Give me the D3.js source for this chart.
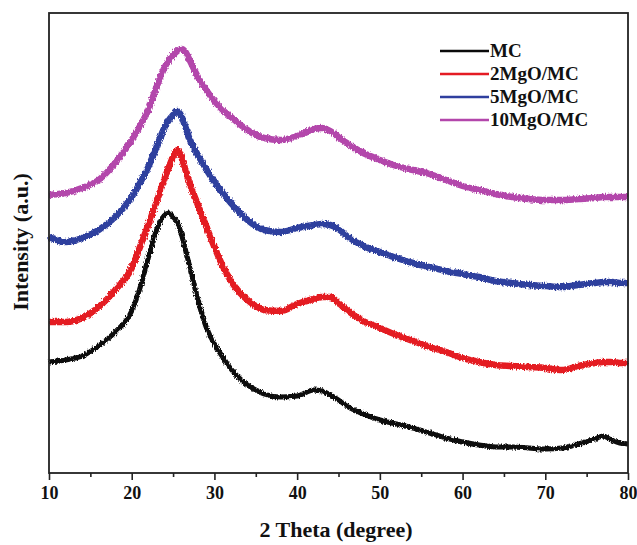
<!DOCTYPE html>
<html>
<head>
<meta charset="utf-8">
<script src="https://cdn.jsdelivr.net/npm/d3@7"></script>
<style>
  html, body { margin: 0; padding: 0; background: #fff; }
  svg { display: block; }
  text { font-family: "Liberation Serif", "Times New Roman", serif; font-weight: bold; fill: #111; }
</style>
</head>
<body>
<svg id="chart" width="637" height="545"></svg>
<script>
// Diffraction angle grid (2θ, degrees)
const theta = [10,12,14,16,18,20,21,22,23,24,24.5,25,25.5,26,26.5,27,28,29,30,31,32,33,34,35,36,38,40,42,43,44,45,46,48,50,52,54,56,58,60,62,64,66,68,70,72,74,76,77,78,79,80];

// Intensities (a.u., stacked offsets included)
const mc = [111,113,117,127,141,162,185,215,243,258,260,256,251,239,223,207,173,146,129,116,104,95,88,83,79,76,77,83,82,78,73,67,59,53,49,45,40,35,31,28,26,26,25,24,25,29,34,37,33,30,29];
const mgo2 = [151,151,155,166,183,205,226,248,271,295,306,316,323,316,303,290,268,247,226,207,192,181,173,167,163,162,169,174,176,176,170,163,152,145,138,132,126,121,115,111,108,107,106,105,103,107,110,111,111,110,110];
const mgo5 = [236,231,235,243,256,276,290,306,326,346,353,358,362,357,346,334,318,304,291,280,270,261,253,247,243,241,245,248,249,248,244,237,227,221,215,210,206,202,199,196,192,190,188,187,186,188,190,191,191,190,190];
const mgo10 = [278,280,285,293,310,333,347,363,386,406,413,418,422,424,421,413,396,383,372,363,356,349,343,338,335,333,337,344,345,342,336,330,320,313,307,303,299,293,287,283,279,276,274,273,273,274,275,276,276,276,276];

const seriesNames = ["MC", "2MgO/MC", "5MgO/MC", "10MgO/MC"];
const seriesColors = ["#0a0a0a", "#e41b23", "#2f3f9e", "#b346ab"];
const seriesValues = [mc, mgo2, mgo5, mgo10];

const xTicks = [10, 20, 30, 40, 50, 60, 70, 80];
const xMinorTicks = [15, 25, 35, 45, 55, 65, 75];

const svg = d3.select("#chart");
const margin = { left: 49, top: 13, right: 9, bottom: 72 };
const W = 637, H = 545;
const plotW = W - margin.left - margin.right;
const plotH = H - margin.top - margin.bottom;

const x = d3.scaleLinear().domain([10, 80]).range([margin.left, margin.left + plotW]);
const y = d3.scaleLinear().domain([0, 460]).range([margin.top + plotH, margin.top]);

// Counting-noise texture for the scan traces
const defs = svg.append("defs");
const rough = defs.append("filter").attr("id", "rough")
  .attr("x", "-2%").attr("y", "-10%").attr("width", "104%").attr("height", "120%");
rough.append("feTurbulence")
  .attr("type", "fractalNoise").attr("baseFrequency", "0.9 0.35")
  .attr("numOctaves", 2).attr("seed", 3).attr("result", "noise");
rough.append("feDisplacementMap")
  .attr("in", "SourceGraphic").attr("in2", "noise")
  .attr("scale", 4).attr("xChannelSelector", "R").attr("yChannelSelector", "G");

const plot = svg.append("g");
const line = d3.line()
  .x((d, i) => x(theta[i]))
  .y(d => y(d))
  .curve(d3.curveMonotoneX);

// Curves, drawn bottom to top so upper traces sit above
seriesValues.forEach((vals, k) => {
  plot.append("path")
    .datum(vals)
    .attr("fill", "none")
    .attr("stroke", seriesColors[k])
    .attr("stroke-width", k === 0 ? 5 : 6.5)
    .attr("stroke-linejoin", "round")
    .attr("filter", "url(#rough)")
    .attr("d", line);
});

// Frame
svg.append("rect")
  .attr("x", margin.left).attr("y", margin.top)
  .attr("width", plotW).attr("height", plotH)
  .attr("fill", "none").attr("stroke", "#222").attr("stroke-width", 1.8);

// Bottom axis
const xAxis = d3.axisBottom(x).tickValues(xTicks).tickSize(7).tickPadding(6).tickFormat(d3.format("d"));
const gx = svg.append("g").attr("transform", `translate(0,${margin.top + plotH})`).call(xAxis);
gx.select(".domain").remove();
gx.selectAll("line").attr("stroke", "#222").attr("stroke-width", 1.6);
gx.selectAll("text").attr("font-size", 18).attr("font-family", "Liberation Serif, serif").attr("font-weight", "bold").attr("fill", "#111");

const gxMinor = svg.append("g").attr("transform", `translate(0,${margin.top + plotH})`)
  .call(d3.axisBottom(x).tickValues(xMinorTicks).tickSize(4).tickFormat(""));
gxMinor.select(".domain").remove();
gxMinor.selectAll("line").attr("stroke", "#222").attr("stroke-width", 1.6);

// Axis titles
svg.append("text")
  .attr("x", 336).attr("y", 537)
  .attr("text-anchor", "middle").attr("font-size", 22)
  .text("2 Theta (degree)");

svg.append("text")
  .attr("transform", `translate(28,242) rotate(-90)`)
  .attr("text-anchor", "middle").attr("font-size", 22)
  .text("Intensity (a.u.)");

// Legend
const legend = svg.append("g");
seriesNames.forEach((name, k) => {
  const cy = 51 + k * 23;
  legend.append("line")
    .attr("x1", 440).attr("x2", 489).attr("y1", cy).attr("y2", cy)
    .attr("stroke", seriesColors[k]).attr("stroke-width", 2.5);
  legend.append("text")
    .attr("x", 490).attr("y", cy + 6).attr("font-size", 19)
    .text(name);
});
</script>
</body>
</html>
